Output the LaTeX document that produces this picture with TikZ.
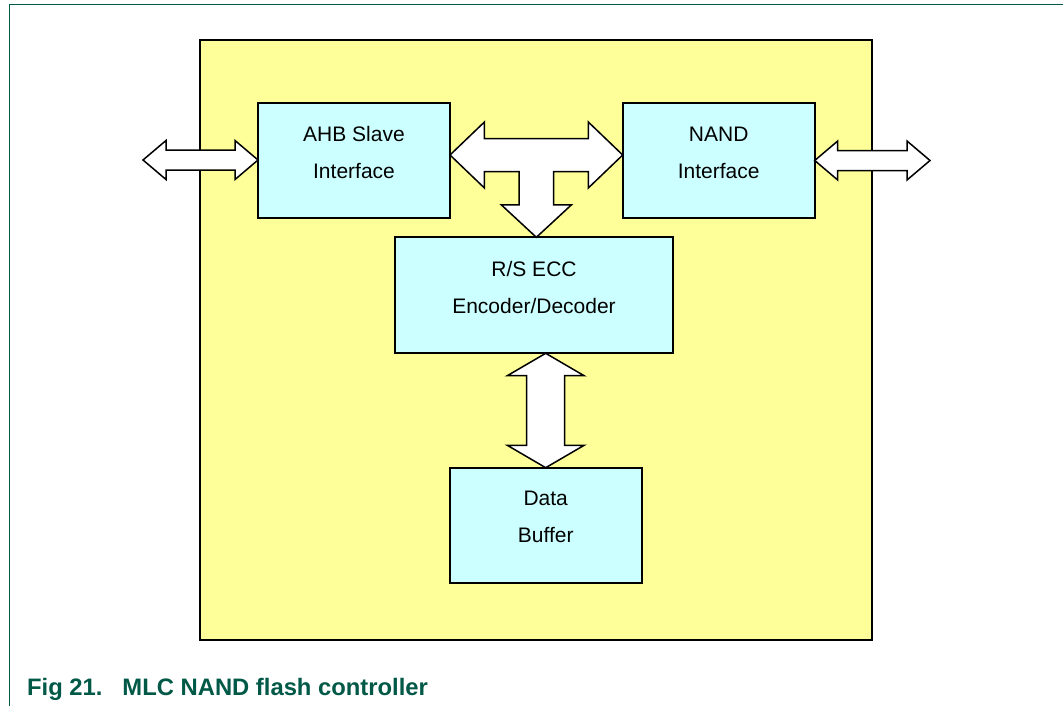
\documentclass[tikz,border=0pt]{standalone}
\usepackage{fontspec}
\setmainfont{Liberation Sans}
\usetikzlibrary{calc}
\definecolor{nxpteal}{RGB}{0,88,70}
\definecolor{chipyellow}{RGB}{255,255,153}
\definecolor{blockcyan}{RGB}{204,255,255}
% block arrows between two points
\newcommand\harrow[2]{%
	\draw[bus] let \p1=(#1), \p2=(#2) in
		(\p1) -- (\x1+11.5pt,\y1+9.75pt) -- (\x1+11.5pt,\y1+5pt) -- (\x2-11.5pt,\y1+5pt) -- (\x2-11.5pt,\y1+9.75pt)
		-- (\x2,\y1) -- (\x2-11.5pt,\y1-9.75pt) -- (\x2-11.5pt,\y1-5pt) -- (\x1+11.5pt,\y1-5pt) -- (\x1+11.5pt,\y1-9.75pt) -- cycle;}
\newcommand\varrow[2]{%
	\draw[bus] let \p1=(#1), \p2=(#2) in
		(\x2,\y1) -- (\x2+19.2pt,\y1-11.2pt) -- (\x2+9.5pt,\y1-11.2pt) -- (\x2+9.5pt,\y2+11.2pt) -- (\x2+19.2pt,\y2+11.2pt)
		-- (\p2) -- (\x2-19.2pt,\y2+11.2pt) -- (\x2-9.5pt,\y2+11.2pt) -- (\x2-9.5pt,\y1-11.2pt) -- (\x2-19.2pt,\y1-11.2pt) -- cycle;}
\begin{document}
\begin{tikzpicture}[x=0.5pt,y=-0.5pt,
		block/.style={draw,line width=1pt,fill=blockcyan,align=center,inner sep=0pt,outer sep=0pt,
			minimum width=96pt,minimum height=57.5pt,text depth=8pt,font=\fontsize{10.5}{18.5}\selectfont},
		bus/.style={draw,line width=0.75pt,fill=white,line join=miter}]
	\useasboundingbox (0,0) rectangle (1063,706);
	\draw[nxpteal,line width=0.6pt] (9.3,706) -- (9.3,4.7) -- (1063,4.7);
	\node[draw,line width=0.75pt,fill=chipyellow,inner sep=0pt,minimum width=336pt,minimum height=300pt] (chip) at (536,340) {};
	\node[block] (ahb) at (354,160.5) {AHB Slave\\Interface};
	\node[block] (nand) at (718.7,160.5) {NAND\\Interface};
	\node[block,minimum width=138.8pt,minimum height=58pt] (ecc) at (534,295.3) {R/S ECC\\Encoder/Decoder};
	\node[block] (buf) at (545.7,525.2) {Data\\Buffer};
	\coordinate (hostbus) at (143,160);
	\coordinate (nandbus) at (930,160);
	\harrow{hostbus}{ahb.west}
	\harrow{nand.east}{nandbus}
	\varrow{ecc.south}{buf.north}
	\draw[bus] let \p1=(ahb.east), \p2=(nand.west), \p3=(ecc.north), \n1={(\x1+\x2)/2}, \n2={\y1+2.75pt} in
		(\x1,\n2) -- (\x1+17.2pt,\n2+16.5pt) -- (\x1+17.2pt,\n2+8.25pt) -- (\x2-17.2pt,\n2+8.25pt) -- (\x2-17.2pt,\n2+16.5pt)
		-- (\x2,\n2) -- (\x2-17.2pt,\n2-16.5pt) -- (\x2-17.2pt,\n2-8.25pt) -- (\n1+8.6pt,\n2-8.25pt) -- (\n1+8.6pt,\y3+16.2pt)
		-- (\n1+17.5pt,\y3+16.2pt) -- (\n1,\y3) -- (\n1-17.5pt,\y3+16.2pt) -- (\n1-8.6pt,\y3+16.2pt) -- (\n1-8.6pt,\n2-8.25pt)
		-- (\x1+17.2pt,\n2-8.25pt) -- (\x1+17.2pt,\n2-16.5pt) -- cycle;
	\node[anchor=base west,inner sep=0pt,text=nxpteal,font=\bfseries\fontsize{11.9}{14}\selectfont] (caption) at (26.7,695)
		{Fig 21.\hspace{10pt}MLC NAND flash controller};
\end{tikzpicture}
\end{document}
